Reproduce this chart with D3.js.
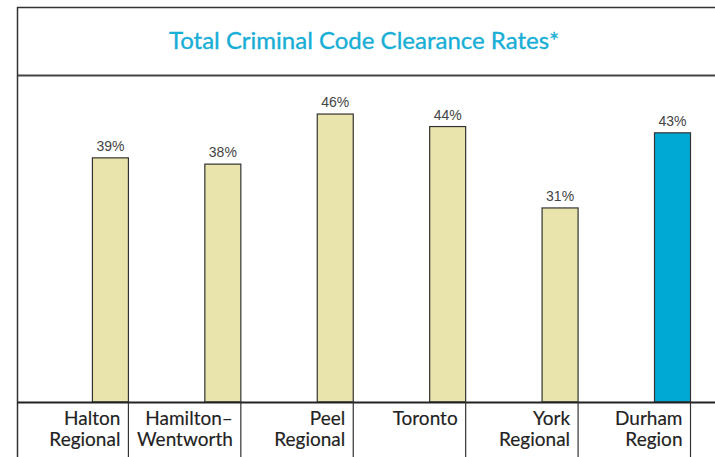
<!DOCTYPE html>
<html>
<head>
<meta charset="utf-8">
<script src="https://cdn.jsdelivr.net/npm/d3@7"></script>
<style>
	body { margin: 0; background: #fff; }
	svg { display: block; }
</style>
</head>
<body>
<div id="chart"></div>
<script>
var categories = ["Halton Regional", "Hamilton-Wentworth", "Peel Regional", "Toronto", "York Regional", "Durham Region"];
var labelLines = [["Halton", "Regional"], ["Hamilton–", "Wentworth"], ["Peel", "Regional"], ["Toronto"], ["York", "Regional"], ["Durham", "Region"]];
var rates = [39, 38, 46, 44, 31, 43];
var highlight = "Durham Region";

var W = 715,
	H = 457,
	baseY = 402;

var svg = d3.select("#chart")
	.append("svg")
	.attr("width", W)
	.attr("height", H);

var x = d3.scaleBand()
	.domain(categories)
	.range([16, 690.5])
	.padding(0);

var y = d3.scaleLinear()
	.domain([0, 50])
	.range([baseY, baseY - 313]);

var barW = 36;

//	Frame
svg.append("line")
	.attr("x1", 17).attr("x2", W)
	.attr("y1", 7.5).attr("y2", 7.5)
	.attr("stroke", "#333").attr("stroke-width", 1.5);

svg.append("line")
	.attr("x1", 17).attr("x2", W)
	.attr("y1", 75.5).attr("y2", 75.5)
	.attr("stroke", "#444").attr("stroke-width", 2);

svg.append("line")
	.attr("x1", 17.5).attr("x2", 17.5)
	.attr("y1", 7).attr("y2", H)
	.attr("stroke", "#333").attr("stroke-width", 1.5);

//	Title
svg.append("text")
	.attr("x", 364)
	.attr("y", 49)
	.attr("text-anchor", "middle")
	.attr("font-family", "Lato, sans-serif")
	.attr("font-size", 24)
	.attr("fill", "#18aed6")
	.attr("stroke", "#18aed6")
	.attr("stroke-width", 0.35)
	.text("Total Criminal Code Clearance Rates*");

//	Bars
svg.selectAll(".bar")
	.data(rates)
	.enter().append("rect")
	.attr("class", "bar")
	.attr("x", function(d, i) { return x(categories[i]) + x.step() - barW; })
	.attr("y", function(d) { return y(d); })
	.attr("width", barW)
	.attr("height", function(d) { return baseY - y(d); })
	.attr("fill", function(d, i) { return categories[i] == highlight ? "#00a9d4" : "#e9e4ab"; })
	.attr("stroke", "#333")
	.attr("stroke-width", 1.2);

//	Value labels
svg.selectAll(".val")
	.data(rates)
	.enter().append("text")
	.attr("class", "val")
	.attr("x", function(d, i) { return x(categories[i]) + x.step() - barW / 2; })
	.attr("y", function(d) { return y(d) - 7; })
	.attr("text-anchor", "middle")
	.attr("font-family", "'Liberation Sans', Arial, sans-serif")
	.attr("font-size", 14)
	.attr("fill", "#444")
	.text(function(d) { return d + "%"; });

//	Baseline
svg.append("line")
	.attr("x1", 17).attr("x2", W)
	.attr("y1", baseY + 0.5).attr("y2", baseY + 0.5)
	.attr("stroke", "#222").attr("stroke-width", 2);

//	Dividers under axis
svg.selectAll(".div")
	.data(categories)
	.enter().append("line")
	.attr("class", "div")
	.attr("x1", function(d) { return x(d) + x.step(); })
	.attr("x2", function(d) { return x(d) + x.step(); })
	.attr("y1", baseY)
	.attr("y2", H)
	.attr("stroke", "#333")
	.attr("stroke-width", 1.2);

//	Category labels
svg.selectAll(".cat")
	.data(d3.merge(labelLines.map(function(lines, i) {
		return lines.map(function(t, j) { return {cat: categories[i], text: t, line: j}; });
	})))
	.enter().append("text")
	.attr("class", "cat")
	.attr("x", function(d) { return x(d.cat) + x.step() - 8; })
	.attr("y", function(d) { return 425 + d.line * 21; })
	.attr("text-anchor", "end")
	.attr("font-family", "Lato, sans-serif")
	.attr("font-size", 19)
	.attr("fill", "#222")
	.attr("stroke", "#222")
	.attr("stroke-width", 0.15)
	.text(function(d) { return d.text; });
</script>
</body>
</html>
